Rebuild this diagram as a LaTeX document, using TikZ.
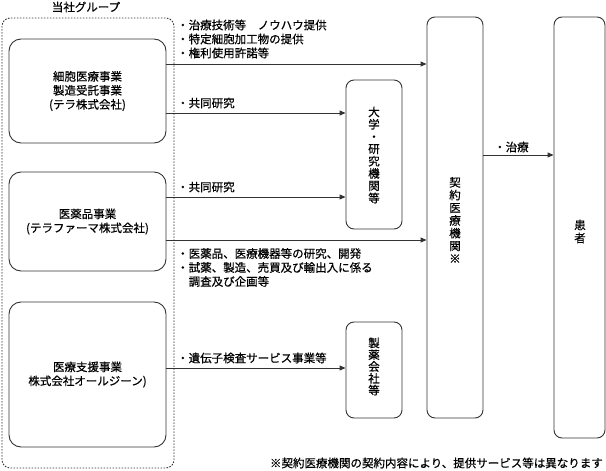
\documentclass[tikz,border=0pt]{standalone}
\usepackage{fontspec}
\setmainfont{Noto Sans CJK JP}[FakeBold=0.6,AutoFakeBold=0.6]
\usetikzlibrary{arrows.meta}
\begin{document}
\begin{tikzpicture}[x=1pt,y=-1pt,
  line/.style={draw=black!80, line width=0.9pt},
  biz/.style={line, rounded corners=12pt, minimum width=157pt, align=center, inner sep=0pt, font=\fontsize{11.5}{14}\selectfont},
  vbox/.style={line, rounded corners=8pt, minimum width=56pt, inner sep=0pt},
  vtext/.style={align=center, inner sep=0pt},
  lbl/.style={anchor=west, align=left, inner sep=0pt, font=\fontsize{11.5}{14}\selectfont},
  arr/.style={line, -{Triangle[length=6pt,width=5pt]}}
]
\useasboundingbox (0,0) rectangle (606,471);

% group frame
\draw[black!80, line width=0.9pt, dash pattern=on 1.6pt off 1.4pt, rounded corners=8pt] (2,18) rectangle (174,468);
\node[inner sep=0pt, font=\fontsize{11.5}{14}\selectfont] (grp) at (86,7) {当社グループ};

% business boxes
\node[biz, minimum height=104pt] (b1) at (87.5,91) {細胞医療事業\\製造受託事業\\(テラ株式会社)};
\node[biz, minimum height=99pt] (b2) at (87.5,221.5) {医薬品事業\\(テラファーマ株式会社)};
\node[biz, minimum height=145pt] (b3) at (87.5,374.5) {医療支援事業\\株式会社オールジーン)};

% right boxes
\node[vbox, minimum height=149pt] (univ) at (374,154.5) {};
\node[vtext, font=\fontsize{11.5}{12.3}\selectfont] (univt) at (374,155) {大\\学\\・\\研\\究\\機\\関\\等};
\node[vbox, minimum height=96pt] (pharma) at (374,370) {};
\node[vtext, font=\fontsize{11.5}{11.8}\selectfont] (pharmat) at (374,366.5) {製\\薬\\会\\社\\等};
\node[vbox, minimum height=401pt] (clinic) at (455,217.5) {};
\node[vtext, font=\fontsize{11.5}{12.7}\selectfont] (clinict) at (455,220) {契\\約\\医\\療\\機\\関\\※};
\node[vbox, minimum width=51pt, minimum height=421pt] (pat) at (579.5,227.5) {};
\node[vtext, font=\fontsize{11.5}{13}\selectfont] (patt) at (580,231.5) {患\\者};

% arrows
\draw[arr] ([yshift=27pt]b1.east) -- ([yshift=27pt]b1.east -| clinic.west);
\draw[arr] ([yshift=-22pt]b1.east) -- ([yshift=-22pt]b1.east -| univ.west);
\draw[arr] ([yshift=24.5pt]b2.east) -- ([yshift=24.5pt]b2.east -| univ.west);
\draw[arr] ([yshift=-18.5pt]b2.east) -- ([yshift=-18.5pt]b2.east -| clinic.west);
\draw[arr] ([yshift=6.5pt]b3.east) -- ([yshift=6.5pt]b3.east -| pharma.west);
\draw[arr] ([yshift=62.5pt]clinic.east) -- ([yshift=62.5pt]clinic.east -| pat.west);

% labels
\node[lbl] (l1) at (177,39) {・治療技術等　ノウハウ提供\\・特定細胞加工物の提供\\・権利使用許諾等};
\node[lbl] (l2) at (177,103) {・共同研究};
\node[lbl] (l3) at (177,187) {・共同研究};
\node[lbl] (l4) at (177,267.5) {・医薬品、医療機器等の研究、開発\\・試薬、製造、売買及び輸出入に係る\\　調査及び企画等};
\node[lbl] (l5) at (177,358) {・遺伝子検査サービス事業等};
\node[lbl] (l6) at (494,147) {・治療};
\node[inner sep=0pt, anchor=east, font=\fontsize{11.5}{14}\selectfont] (note) at (603,463) {※契約医療機関の契約内容により、提供サービス等は異なります};
\end{tikzpicture}
\end{document}
